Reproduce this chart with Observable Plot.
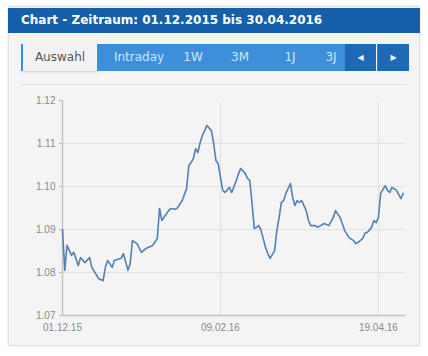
<!DOCTYPE html>
<html><head><meta charset="utf-8">
<script src="https://cdn.jsdelivr.net/npm/d3@7"></script>
<script src="https://cdn.jsdelivr.net/npm/@observablehq/plot@0.6"></script>
<style>
html,body{margin:0;padding:0;background:#fff;width:428px;height:356px;overflow:hidden;font-family:"DejaVu Sans",Verdana,sans-serif;}
#panel{position:absolute;left:8px;top:6px;width:410px;height:338px;background:#f4f4f4;border:1px solid #e2e2e2;box-shadow:0 0 2px #ddd;}
#title{position:absolute;left:8px;top:8px;width:412px;height:25px;background:#1560a8;color:#fff;font-weight:bold;font-size:12px;line-height:25px;padding-left:13px;box-sizing:border-box;white-space:nowrap;}
#sel{position:absolute;left:21px;top:44px;width:74px;height:27px;line-height:27px;text-align:center;font-size:12px;background:#f2f2f2;color:#555;border-left:2px solid #3d8fd9;box-shadow:1px 1px 2px #ccc;}
#strip{position:absolute;left:97px;top:44px;width:248px;height:27px;background:#3d8fd9;color:#cfe4f7;font-size:12px;}
#strip span{position:absolute;top:0;line-height:27px;transform:translateX(-50%);white-space:nowrap;}
.nav{position:absolute;top:44px;width:31px;height:27px;line-height:27px;text-align:center;background:#1d69b6;color:#e8f2fc;font-size:8px;}
#sep{position:absolute;left:21px;top:84px;width:386px;height:1px;background:#e0e0e0;}
#chart{position:absolute;left:0;top:90px;}
</style></head>
<body>
<div id="panel"></div>
<div id="title">Chart - Zeitraum: 01.12.2015 bis 30.04.2016</div>
<div id="sel">Auswahl</div>
<div id="strip">
  <span style="left:42px">Intraday</span>
  <span style="left:96px">1W</span>
  <span style="left:143px">3M</span>
  <span style="left:193px">1J</span>
  <span style="left:234px">3J</span>
</div>
<div class="nav" style="left:345px">&#9664;</div>
<div class="nav" style="left:377px;border-left:1px solid #3d7fc4;">&#9654;</div>
<div id="sep"></div>
<div id="chart"></div>
<script>
const dates = ["2015-12-01","2015-12-02","2015-12-03","2015-12-05","2015-12-06","2015-12-08","2015-12-09","2015-12-11","2015-12-13","2015-12-14","2015-12-17","2015-12-19","2015-12-20","2015-12-21","2015-12-23","2015-12-24","2015-12-27","2015-12-28","2015-12-30","2015-12-31","2016-01-01","2016-01-03","2016-01-05","2016-01-07","2016-01-10","2016-01-12","2016-01-13","2016-01-14","2016-01-17","2016-01-18","2016-01-20","2016-01-21","2016-01-23","2016-01-25","2016-01-26","2016-01-27","2016-01-28","2016-01-29","2016-01-30","2016-01-31","2016-02-01","2016-02-02","2016-02-03","2016-02-05","2016-02-06","2016-02-07","2016-02-08","2016-02-09","2016-02-10","2016-02-11","2016-02-13","2016-02-14","2016-02-16","2016-02-17","2016-02-18","2016-02-20","2016-02-21","2016-02-22","2016-02-23","2016-02-24","2016-02-25","2016-02-26","2016-02-27","2016-02-29","2016-03-01","2016-03-02","2016-03-04","2016-03-05","2016-03-06","2016-03-07","2016-03-08","2016-03-09","2016-03-11","2016-03-12","2016-03-13","2016-03-14","2016-03-15","2016-03-16","2016-03-18","2016-03-19","2016-03-20","2016-03-22","2016-03-23","2016-03-26","2016-03-28","2016-03-30","2016-03-31","2016-04-02","2016-04-03","2016-04-04","2016-04-06","2016-04-08","2016-04-09","2016-04-10","2016-04-12","2016-04-13","2016-04-14","2016-04-16","2016-04-17","2016-04-18","2016-04-19","2016-04-20","2016-04-22","2016-04-23","2016-04-24","2016-04-25","2016-04-26","2016-04-27","2016-04-29","2016-04-30"];
const values = [1.0900,1.0805,1.0863,1.0840,1.0847,1.0816,1.0835,1.0823,1.0835,1.0812,1.0786,1.0781,1.0812,1.0828,1.0812,1.0828,1.0833,1.0844,1.0805,1.0821,1.0874,1.0867,1.0847,1.0856,1.0863,1.0879,1.0949,1.0921,1.0944,1.0949,1.0947,1.0951,1.0967,1.0995,1.1049,1.1056,1.1065,1.1088,1.1079,1.1102,1.1119,1.1130,1.1142,1.1130,1.1100,1.1060,1.1053,1.1021,1.0991,1.0986,1.0998,1.0986,1.1014,1.1030,1.1042,1.1030,1.1019,1.1014,1.0960,1.0902,1.0905,1.0909,1.0898,1.0858,1.0844,1.0833,1.0851,1.0898,1.0928,1.0963,1.0967,1.0984,1.1007,1.0974,1.0956,1.0967,1.0963,1.0967,1.0944,1.0921,1.0909,1.0909,1.0905,1.0914,1.0909,1.0928,1.0944,1.0928,1.0914,1.0898,1.0881,1.0874,1.0867,1.0870,1.0879,1.0891,1.0893,1.0905,1.0921,1.0916,1.0928,1.0984,1.1002,1.0991,1.0986,1.0998,1.0995,1.0991,1.0972,1.0984];
const xTickDates = ["2015-12-01","2016-02-09","2016-04-19"];
const yTicks = [1.07,1.08,1.09,1.10,1.11,1.12];
const yGrid = [1.08,1.09,1.10,1.11];
const xDomain = ["2015-12-01","2016-05-01"];

const data = dates.map((d,i)=>({date:new Date(d), value:values[i]}));
const xt = xTickDates.map(d=>new Date(d));
const fmt = d3.utcFormat("%d.%m.%y");

const chart = Plot.plot({
  width: 428, height: 245,
  marginLeft: 62, marginRight: 23, marginTop: 10, marginBottom: 20,
  style: {background:"transparent", fontFamily:"'Liberation Sans',Arial,sans-serif", fontSize:"10px", color:"#888"},
  x: {type:"utc", domain: xDomain.map(d=>new Date(d)), label:null},
  y: {domain:[1.07,1.12], label:null},
  marks: [
    Plot.gridY(yGrid, {stroke:"#e0e0e0", strokeOpacity:1}),
    Plot.gridX(xt.slice(1), {stroke:"#e0e0e0", strokeOpacity:1, y1:1.07, y2:1.1195}),
    Plot.ruleY([1.07], {stroke:"#c4c4c4", strokeWidth:1.5}),
    Plot.ruleX([xt[0]], {stroke:"#c4c4c4", strokeWidth:1.5}),
    Plot.lineY(data, {x:"date", y:"value", stroke:"#5181b3", strokeWidth:1.6}),
    Plot.axisX(xt, {tickFormat: fmt, tickSize:0, tickPadding:8, fill:"#8a8a8a", label:null}),
    Plot.axisY(yTicks, {tickFormat: d=>d.toFixed(2), tickSize:3, tickPadding:4, stroke:"#bbb", fill:"#8a8a8a", label:null})
  ]
});
document.getElementById("chart").appendChild(chart);
</script>
</body></html>
